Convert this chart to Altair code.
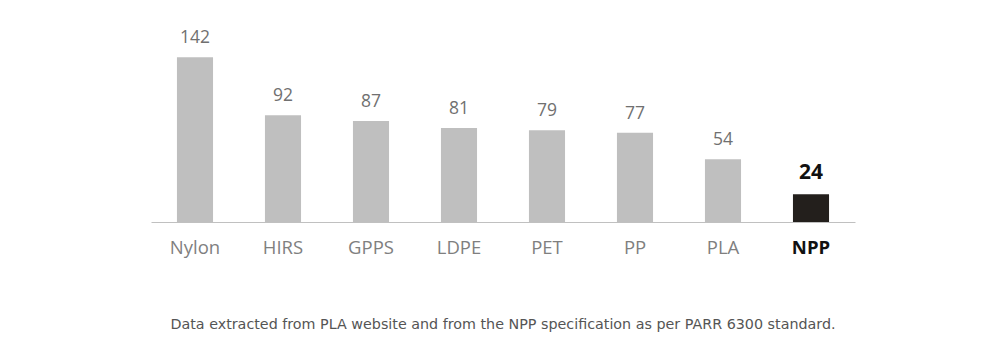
import altair as alt
import pandas as pd

materials = ["Nylon", "HIRS", "GPPS", "LDPE", "PET", "PP", "PLA", "NPP"]
values = [142, 92, 87, 81, 79, 77, 54, 24]
highlight = [False, False, False, False, False, False, False, True]
footnote = "Data extracted from PLA website and from the NPP specification as per PARR 6300 standard."

df = pd.DataFrame({"material": materials, "value": values, "hl": highlight})

x = alt.X(
    "material:N",
    sort=materials,
    scale=alt.Scale(paddingInner=0.59, paddingOuter=0.295),
    axis=alt.Axis(
        title=None,
        domainColor="#c0c0c0",
        domainWidth=1,
        ticks=False,
        labelAngle=0,
        labelFont="Open Sans",
        labelFontSize=18.5,
        labelPadding=16,
        labelColor=alt.expr("datum.value == 'NPP' ? '#111111' : '#7f7f7f'"),
        labelFontWeight=alt.expr("datum.value == 'NPP' ? 'bold' : 'normal'"),
    ),
)
y = alt.Y("value:Q", scale=alt.Scale(domain=[0, 150]), axis=None)

bars = alt.Chart(df).mark_bar().encode(
    x=x,
    y=y,
    color=alt.Color(
        "hl:N",
        scale=alt.Scale(domain=[False, True], range=["#bfbfbf", "#231f1c"]),
        legend=None,
    ),
)

labels_normal = alt.Chart(df).transform_filter("!datum.hl").mark_text(
    dy=-10, baseline="bottom", font="Open Sans", fontSize=17.5, color="#707070"
).encode(x=x, y=y, text="value:Q")

labels_hl = alt.Chart(df).transform_filter("datum.hl").mark_text(
    dy=-11, baseline="bottom", font="Open Sans", fontSize=21, fontWeight="bold", color="#111111"
).encode(x=x, y=y, text="value:Q")

note = alt.Chart(pd.DataFrame({"t": [footnote]})).mark_text(
    font="DejaVu Sans", fontSize=14.3, color="#555555", align="center", baseline="middle"
).encode(x=alt.value(352), y=alt.value(277), text="t:N")

chart = (
    alt.layer(bars, labels_normal, labels_hl, note)
    .properties(
        width=704,
        height=174,
        background="white",
        autosize=alt.AutoSizeParams(type="none"),
        padding={"left": 151, "top": 48, "right": 145, "bottom": 130},
    )
    .configure_view(strokeWidth=0, stroke="transparent")
)

chart.save("out.html", embed_options={"renderer": "svg", "actions": False})
